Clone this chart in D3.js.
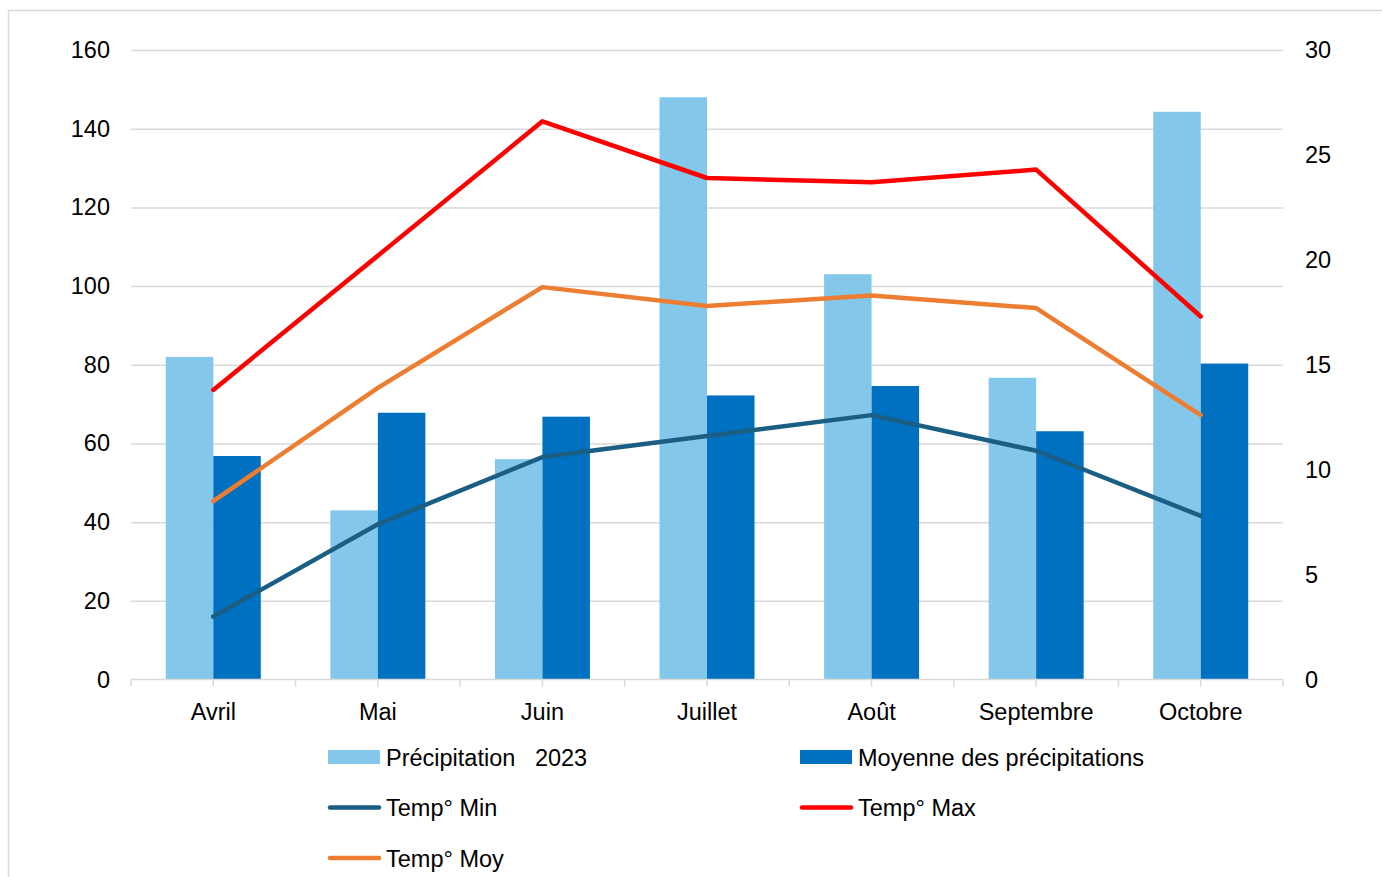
<!DOCTYPE html>
<html>
<head>
<meta charset="utf-8">
<script src="https://cdn.jsdelivr.net/npm/d3@7"></script>
<style>
  body { margin: 0; background: #fff; }
  svg text { font-family: "Liberation Sans", Arial, sans-serif; fill: #000; }
</style>
</head>
<body>
<svg id="chart"></svg>
<script>
// données
const months = ["Avril", "Mai", "Juin", "Juillet", "Août", "Septembre", "Octobre"];
const precip2023 = [82, 43, 56, 148, 103, 76.7, 144.3];
const precipMoy = [56.8, 67.8, 66.8, 72.2, 74.6, 63.1, 80.3];
const tempMin = [3.0, 7.4, 10.6, 11.6, 12.6, 10.9, 7.8];
const tempMax = [13.8, 20.2, 26.6, 23.9, 23.7, 24.3, 17.3];
const tempMoy = [8.5, 13.9, 18.7, 17.8, 18.3, 17.7, 12.6];
const leftTicks = [0, 20, 40, 60, 80, 100, 120, 140, 160];
const rightTicks = [0, 5, 10, 15, 20, 25, 30];

const W = 1382, H = 877;
const plot = { left: 131, right: 1283, top: 50, bottom: 679.5 };
const fontSize = "23.5px";

const svg = d3.select("#chart").attr("width", W).attr("height", H);

// cadre du graphique
svg.append("rect")
  .attr("x", 8.5).attr("y", 10.5)
  .attr("width", W + 20).attr("height", H + 20)
  .attr("fill", "none").attr("stroke", "#d9d9d9").attr("stroke-width", 1.5);

const x = d3.scaleBand().domain(months).range([plot.left, plot.right]);
const yL = d3.scaleLinear().domain([0, 160]).range([plot.bottom, plot.top]);
const yR = d3.scaleLinear().domain([0, 30]).range([plot.bottom, plot.top]);
const xc = m => x(m) + x.bandwidth() / 2;

const bars = [
  { name: "Précipitation   2023", values: precip2023, color: "#83C8EA" },
  { name: "Moyenne des précipitations", values: precipMoy, color: "#0070C0" }
];
const inner = d3.scaleBand().domain(bars.map(d => d.name)).range([-47.5, 47.5]);

const lines = [
  { name: "Temp° Min", values: tempMin, color: "#1B5E84" },
  { name: "Temp° Max", values: tempMax, color: "#FF0000" },
  { name: "Temp° Moy", values: tempMoy, color: "#ED7D31" }
];

// grille
svg.append("g")
  .attr("transform", `translate(${plot.left},0)`)
  .call(d3.axisLeft(yL).tickValues(leftTicks.slice(1)).tickSize(-(plot.right - plot.left)).tickFormat(""))
  .call(g => g.select(".domain").remove())
  .call(g => g.selectAll("line").attr("stroke", "#d9d9d9").attr("stroke-width", 1.5));

// axe gauche
svg.append("g")
  .attr("transform", `translate(${plot.left},0)`)
  .call(d3.axisLeft(yL).tickValues(leftTicks).tickSize(0).tickPadding(21))
  .call(g => g.select(".domain").remove())
  .selectAll("text").style("font-size", fontSize);

// axe droit
svg.append("g")
  .attr("transform", `translate(${plot.right},0)`)
  .call(d3.axisRight(yR).tickValues(rightTicks).tickSize(0).tickPadding(22))
  .call(g => g.select(".domain").remove())
  .selectAll("text").style("font-size", fontSize);

// barres
svg.append("g").selectAll("g")
  .data(bars)
  .join("g")
  .attr("fill", d => d.color)
  .selectAll("rect")
  .data(d => d.values.map((v, i) => ({ s: d.name, m: months[i], v })))
  .join("rect")
  .attr("x", d => xc(d.m) + inner(d.s))
  .attr("width", inner.bandwidth())
  .attr("y", d => yL(d.v))
  .attr("height", d => yL(0) - yL(d.v));

// axe des abscisses
const xAxis = svg.append("g").attr("transform", `translate(0,${plot.bottom})`);
xAxis.append("line")
  .attr("x1", plot.left).attr("x2", plot.right)
  .attr("stroke", "#d9d9d9").attr("stroke-width", 1.5);
const tickPos = [];
months.forEach(m => { tickPos.push(x(m)); tickPos.push(xc(m)); });
tickPos.push(plot.right);
xAxis.selectAll("line.tick")
  .data(tickPos)
  .join("line")
  .attr("class", "tick")
  .attr("x1", d => d).attr("x2", d => d)
  .attr("y1", 0).attr("y2", 7)
  .attr("stroke", "#d9d9d9").attr("stroke-width", 1.5);
xAxis.selectAll("text")
  .data(months)
  .join("text")
  .attr("x", d => xc(d))
  .attr("y", 40)
  .attr("text-anchor", "middle")
  .style("font-size", fontSize)
  .text(d => d);

// courbes de température
const lineGen = d3.line().x((d, i) => xc(months[i])).y(d => yR(d));
svg.append("g").selectAll("path")
  .data(lines)
  .join("path")
  .attr("d", d => lineGen(d.values))
  .attr("fill", "none")
  .attr("stroke", d => d.color)
  .attr("stroke-width", 4.5)
  .attr("stroke-linejoin", "round")
  .attr("stroke-linecap", "round");

// légende
const legendItems = [
  { ...bars[0], type: "rect", col: 0, row: 0 },
  { ...bars[1], type: "rect", col: 1, row: 0 },
  { ...lines[0], type: "line", col: 0, row: 1 },
  { ...lines[1], type: "line", col: 1, row: 1 },
  { ...lines[2], type: "line", col: 0, row: 2 }
];
const legend = svg.append("g")
  .selectAll("g")
  .data(legendItems)
  .join("g")
  .attr("transform", d => `translate(${d.col === 0 ? 328 : 800},${757 + d.row * 50.5})`);

legend.filter(d => d.type === "rect")
  .append("rect")
  .attr("x", 0).attr("y", -7)
  .attr("width", 52).attr("height", 14)
  .attr("fill", d => d.color);

legend.filter(d => d.type === "line")
  .append("line")
  .attr("x1", 2).attr("x2", 51)
  .attr("stroke", d => d.color)
  .attr("stroke-width", 4.5)
  .attr("stroke-linecap", "round");

legend.append("text")
  .attr("x", 58)
  .attr("y", 8.5)
  .style("font-size", fontSize)
  .style("white-space", "pre")
  .text(d => d.name);
</script>
</body>
</html>
